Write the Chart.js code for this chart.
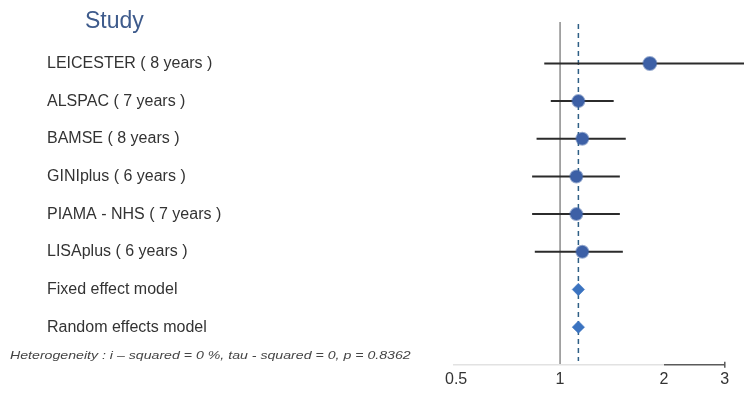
<!DOCTYPE html>
<html>
<head>
<meta charset="utf-8">
<title>Forest plot</title>
<script src="https://cdn.jsdelivr.net/npm/chart.js@4.4.1/dist/chart.umd.min.js"></script>
<style>
  html, body { margin: 0; padding: 0; background: #ffffff; }
  #wrap { position: relative; width: 744px; height: 398px; }
</style>
</head>
<body>
<div id="wrap"><canvas id="forest"></canvas></div>
<script>
// Study rows, top to bottom
const studies = [
  'LEICESTER ( 8 years )',
  'ALSPAC ( 7 years )',
  'BAMSE ( 8 years )',
  'GINIplus ( 6 years )',
  'PIAMA - NHS ( 7 years )',
  'LISAplus ( 6 years )',
  'Fixed effect model',
  'Random effects model'
];
// Point estimates and 95% confidence limits for individual studies
const estimates = [1.82, 1.13, 1.16, 1.115, 1.115, 1.16];
const lowerCI   = [0.90, 0.94, 0.855, 0.83, 0.83, 0.845];
const upperCI   = [4.00, 1.43, 1.55, 1.49, 1.49, 1.52];
// Pooled estimates (fixed, random)
const pooled = [1.13, 1.13];
// Axis ticks
const xTicks = [0.5, 1, 2, 3];
const heterogeneity = 'Heterogeneity : i \u2013 squared = 0 %, tau - squared = 0, p = 0.8362';

const rowIndex = studies.map((_, i) => i);

const ciDatasets = estimates.map((_, i) => ({
  type: 'line',
  data: [{ x: lowerCI[i], y: i }, { x: upperCI[i], y: i }],
  borderColor: '#2b2b2b',
  borderWidth: 2,
  pointRadius: 0,
  order: 2
}));

const studyPoints = {
  type: 'scatter',
  data: estimates.map((v, i) => ({ x: v, y: i })),
  backgroundColor: '#3d60a6',
  borderColor: 'rgba(61,96,166,0.55)',
  borderWidth: 2,
  pointRadius: estimates.map((_, i) => i === 0 ? 6.5 : 6),
  pointStyle: 'circle',
  order: 1
};

const pooledPoints = {
  type: 'scatter',
  data: pooled.map((v, i) => ({ x: v, y: estimates.length + i })),
  backgroundColor: '#3b73c0',
  borderColor: 'rgba(59,115,192,0.5)',
  borderWidth: 1,
  pointRadius: 6.2,
  pointStyle: 'rectRot',
  order: 1
};

// Reference lines, axis line and extra text
const decorations = {
  id: 'decorations',
  beforeDatasetsDraw(chart) {
    const { ctx, chartArea, scales: { x, y } } = chart;
    ctx.save();
    // line of no effect
    const x1 = x.getPixelForValue(1);
    ctx.strokeStyle = '#6e6e6e';
    ctx.lineWidth = 1.2;
    ctx.beginPath();
    ctx.moveTo(x1, chartArea.top);
    ctx.lineTo(x1, chartArea.bottom);
    ctx.stroke();
    // pooled estimate line
    const xp = x.getPixelForValue(pooled[0]);
    ctx.strokeStyle = '#2e5f86';
    ctx.setLineDash([5, 4]);
    ctx.lineWidth = 1.5;
    ctx.beginPath();
    ctx.moveTo(xp, y.getPixelForValue(-1.05));
    ctx.lineTo(xp, y.getPixelForValue(7.9));
    ctx.stroke();
    ctx.setLineDash([]);
    // bottom axis
    const yb = chartArea.bottom;
    ctx.strokeStyle = '#e2e2e2';
    ctx.lineWidth = 1.5;
    ctx.beginPath();
    ctx.moveTo(chartArea.left + 3, yb);
    ctx.lineTo(x.getPixelForValue(2), yb);
    ctx.stroke();
    ctx.strokeStyle = '#5a5a5a';
    ctx.beginPath();
    ctx.moveTo(x.getPixelForValue(2), yb);
    ctx.lineTo(x.getPixelForValue(3), yb);
    ctx.moveTo(x.getPixelForValue(3), yb - 3);
    ctx.lineTo(x.getPixelForValue(3), yb + 3);
    ctx.stroke();
    ctx.restore();
  },
  afterDraw(chart) {
    const { ctx, scales: { y } } = chart;
    ctx.save();
    ctx.fillStyle = '#3e5b8c';
    ctx.font = '23px "Liberation Sans", Arial, sans-serif';
    ctx.textAlign = 'left';
    ctx.textBaseline = 'middle';
    ctx.fillText('Study', 85, y.getPixelForValue(-1.1));
    // heterogeneity statistics, in a slightly widened italic face
    ctx.fillStyle = '#444444';
    ctx.font = 'italic 11.5px "Liberation Sans", Arial, sans-serif';
    ctx.translate(10, y.getPixelForValue(7.75));
    ctx.scale(1.23, 1);
    ctx.fillText(heterogeneity, 0, 0);
    ctx.restore();
  }
};

new Chart(document.getElementById('forest'), {
  data: { datasets: [...ciDatasets, studyPoints, pooledPoints] },
  options: {
    responsive: true,
    maintainAspectRatio: false,
    animation: false,
    layout: { autoPadding: false, padding: { left: 47, right: 0, top: 22, bottom: 4 } },
    plugins: { legend: { display: false }, tooltip: { enabled: false } },
    scales: {
      x: {
        type: 'logarithmic',
        min: 0.48,
        max: 3.41,
        grid: { display: false, drawTicks: false },
        border: { display: false },
        afterBuildTicks(scale) { scale.ticks = xTicks.map(v => ({ value: v })); },
        ticks: {
          color: '#333333',
          font: { family: '"Liberation Sans", Arial, sans-serif', size: 16 },
          padding: 5,
          maxRotation: 0,
          autoSkip: false,
          callback: v => String(v)
        }
      },
      y: {
        type: 'linear',
        reverse: true,
        min: -1.1,
        max: 8,
        grid: { display: false, drawTicks: false },
        border: { display: false },
        afterBuildTicks(scale) { scale.ticks = rowIndex.map(v => ({ value: v })); },
        afterFit(scale) { scale.width = 403; },
        ticks: {
          crossAlign: 'far',
          color: '#333333',
          font: { family: '"Liberation Sans", Arial, sans-serif', size: 16 },
          autoSkip: false,
          callback: v => studies[v] ?? ''
        }
      }
    }
  },
  plugins: [decorations]
});
</script>
</body>
</html>
